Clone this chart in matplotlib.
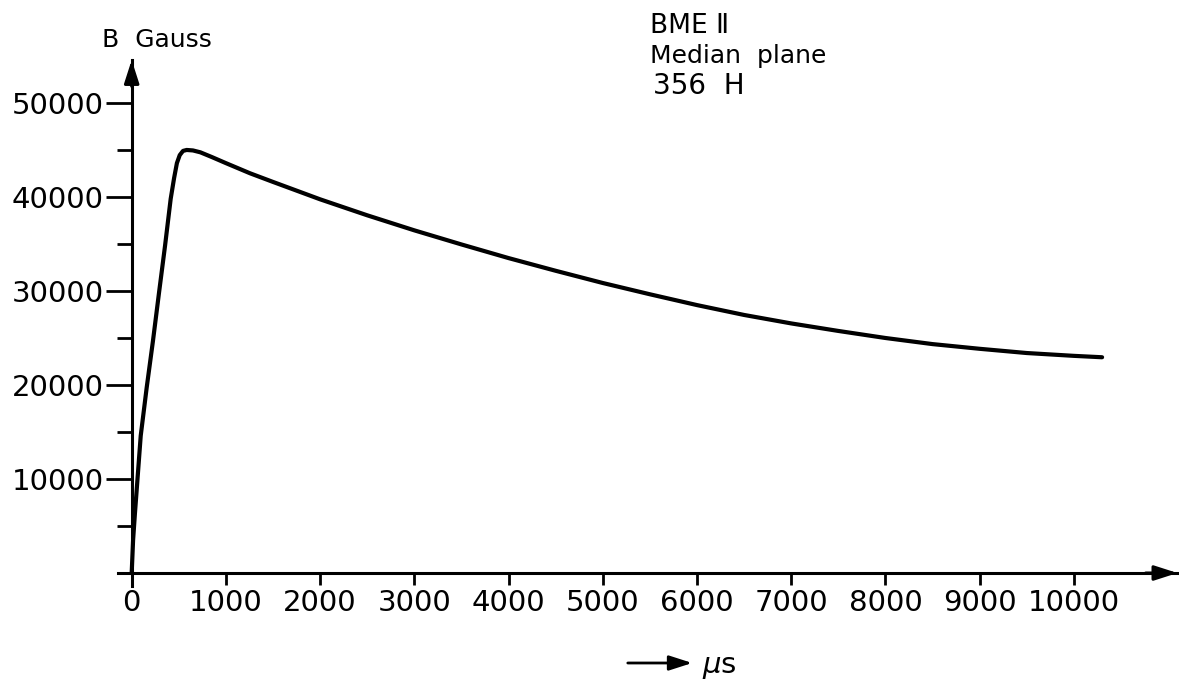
import matplotlib.pyplot as plt
from matplotlib.patches import FancyArrowPatch

# field in the median plane vs time
t_us = [0, 15, 35, 96, 159, 226, 290, 354, 414, 450, 480, 510, 545, 584, 650, 729,
        850, 1000, 1256, 1500, 2000, 2500, 3000, 3500, 4000, 4500, 5000, 5500,
        6000, 6500, 7000, 7500, 8000, 8500, 9000, 9500, 10000, 10300]
b_gauss = [0, 3500, 6400, 14600, 19700, 24700, 29800, 34800, 39800, 42000, 43600,
           44450, 44900, 45000, 44950, 44750,
           44250, 43600, 42520, 41600, 39750, 38050, 36450, 34950, 33500, 32150,
           30850, 29650, 28500, 27450, 26550, 25750, 25000, 24350, 23850, 23400,
           23100, 22950]

x_ticks = list(range(0, 10001, 1000))
y_ticks = [10000, 20000, 30000, 40000, 50000]
y_minor = [5000, 15000, 25000, 35000, 45000]

fig = plt.figure(figsize=(11.79, 6.88), dpi=100)
ax = fig.add_axes([0.0997, 0.148, 0.899, 0.7648])

ax.plot(t_us, b_gauss, color='black', lw=3, solid_capstyle='round',
        solid_joinstyle='round')

ax.set_xlim(-150, 11100)
ax.set_ylim(-1400, 54570)

for side in ['top', 'right']:
    ax.spines[side].set_visible(False)
for side in ['left', 'bottom']:
    ax.spines[side].set_position(('data', 0))
    ax.spines[side].set_linewidth(2.2)

ax.set_xticks(x_ticks)
ax.set_xticklabels([str(v) for v in x_ticks])
ax.set_yticks(y_ticks)
ax.set_yticklabels([str(v) for v in y_ticks])
ax.set_yticks(y_minor, minor=True)

ax.tick_params(axis='x', direction='out', length=8.5, width=2, pad=3, labelsize=21)
ax.tick_params(axis='y', which='major', direction='out', length=19, width=2, pad=1,
               labelsize=21)
ax.tick_params(axis='y', which='minor', direction='out', length=10.5, width=2)

# arrow heads on both axes
head = dict(arrowstyle='-|>,head_length=1.4,head_width=0.45', color='black',
            lw=2.2, shrinkA=0, shrinkB=0, mutation_scale=10)
ax.annotate('', xy=(1.0, 0), xycoords=ax.get_yaxis_transform(),
            xytext=(0.97, 0), textcoords=ax.get_yaxis_transform(), arrowprops=head)
ax.annotate('', xy=(0, 1.0), xycoords=ax.get_xaxis_transform(),
            xytext=(0, 0.95), textcoords=ax.get_xaxis_transform(), arrowprops=head)

H = 688.0
W = 1179.0
fig.text(102 / W, 1 - 47 / H, 'B  Gauss', fontsize=18, va='baseline', ha='left')

fig.text(650 / W, 1 - 33 / H, 'BME Ⅱ', fontsize=19, va='baseline', ha='left')
fig.text(650 / W, 1 - 63 / H, 'Median  plane', fontsize=18, va='baseline', ha='left')
fig.text(653 / W, 1 - 94 / H, '356  H', fontsize=20, va='baseline', ha='left')

# time axis label
fig.patches.append(FancyArrowPatch(
    (625 / W, 1 - 663 / H), (695 / W, 1 - 663 / H), transform=fig.transFigure,
    arrowstyle='-|>,head_length=1.4,head_width=0.45', mutation_scale=10,
    color='black', lw=2))
fig.text(702 / W, 1 - 673 / H, r'$\mu$s', fontsize=21, va='baseline', ha='left')

fig.savefig('out.png', dpi=100, facecolor='white')
